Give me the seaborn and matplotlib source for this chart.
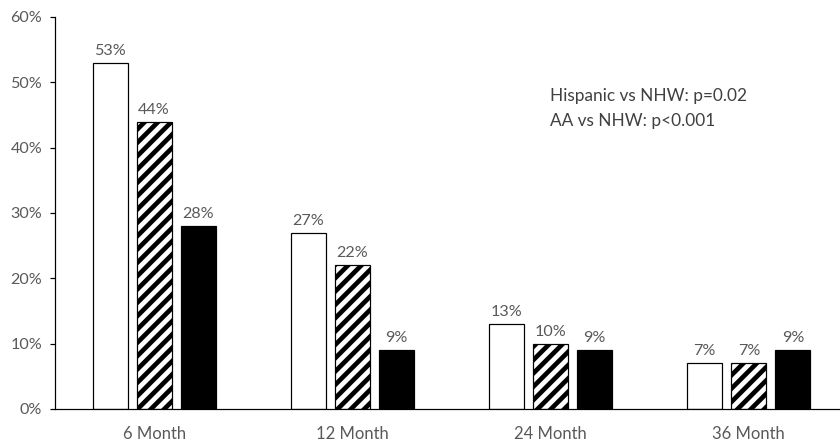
import matplotlib
matplotlib.use("Agg")
import matplotlib.pyplot as plt
import numpy as np
import pandas as pd
import seaborn as sns
from matplotlib.ticker import MultipleLocator, FuncFormatter

# ---- data ----
periods = ["6 Month", "12 Month", "24 Month", "36 Month"]
groups = ["NHW", "Hispanic", "AA"]
nhw = [53, 27, 13, 7]
hispanic = [44, 22, 10, 7]
aa = [28, 9, 9, 9]
note_lines = ["Hispanic vs NHW: p=0.02", "AA vs NHW: p<0.001"]

series = {"NHW": nhw, "Hispanic": hispanic, "AA": aa}
df = pd.DataFrame({
    "period": [p for g in groups for p in periods],
    "group": [g for g in groups for _ in periods],
    "pct": [v for g in groups for v in series[g]],
})

sns.set_theme(style="white")
plt.rcParams["font.family"] = ["Lato", "DejaVu Sans"]
plt.rcParams["hatch.linewidth"] = 4.2
plt.rcParams["hatch.color"] = "black"

TXT = "#595959"
fig = plt.figure(figsize=(10.5, 5.5875), dpi=80)
ax = fig.add_axes([55 / 840, 38 / 447, 1 - 55 / 840, 392 / 447])

sns.barplot(data=df, x="period", y="pct", hue="group", order=periods,
            hue_order=groups, palette=["white", "white", "black"],
            saturation=1, width=0.666, gap=0.2, edgecolor="black",
            linewidth=1.1, errorbar=None, legend=False, ax=ax)

for bar in ax.containers[1]:
    bar.set_hatch("//")

for cont, g in zip(ax.containers, groups):
    ax.bar_label(cont, labels=[f"{v}%" for v in series[g]], padding=4.5,
                 color=TXT, fontsize=14.5)

ax.set_ylim(0, 60)
ax.set_xlim(-0.5, 3.46)
ax.yaxis.set_major_locator(MultipleLocator(10))
ax.yaxis.set_major_formatter(FuncFormatter(lambda v, p: f"{v:.0f}%"))
ax.set_xlabel("")
ax.set_ylabel("")

for s in ["top", "right"]:
    ax.spines[s].set_visible(False)
for s in ["left", "bottom"]:
    ax.spines[s].set_color("black")
    ax.spines[s].set_linewidth(1.1)

ax.tick_params(axis="y", which="major", left=True, direction="out", length=4.5,
               width=1.1, color="black", labelsize=14.5, labelcolor=TXT, pad=7)
ax.tick_params(axis="x", length=0, labelsize=15, labelcolor=TXT, pad=15.5)

fig.text(550 / 840, 1 - 101 / 447, note_lines[0], fontsize=15.5, color="#404040",
         va="baseline", ha="left")
fig.text(550 / 840, 1 - 126 / 447, note_lines[1], fontsize=15.5, color="#404040",
         va="baseline", ha="left")

fig.savefig("out.png", dpi=80, facecolor="white")
